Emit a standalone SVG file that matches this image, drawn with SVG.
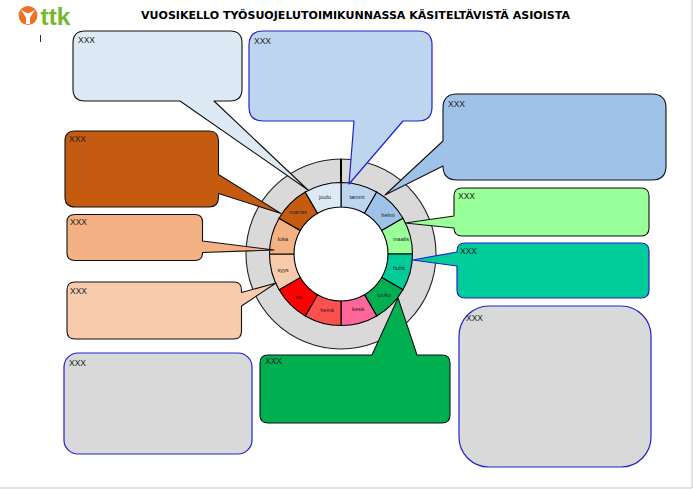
<svg xmlns="http://www.w3.org/2000/svg" width="693" height="489" viewBox="0 0 693 489">
<style>
.s{stroke:#000;stroke-width:1.1}
.c{stroke:#111;stroke-width:1.1;stroke-linejoin:round}
.b{stroke:#2222cc;stroke-width:1.2;stroke-linejoin:round}
.x{font:8.5px "Liberation Sans",Arial,sans-serif;fill:#222}
.m{font:5.6px "Liberation Sans",Arial,sans-serif;fill:#222;text-anchor:middle}
</style>
<rect width="693" height="489" fill="#fff"/>
<path d="M0 488H692V0" fill="none" stroke="#c4c4c4" stroke-width="1"/>
<g id="logo">
<circle cx="28" cy="15.500" r="9.500" fill="#ee7126"/>
<path d="M21 10L28 13.500L35 10L30 17.500V24H26V17.500Z" fill="#fff"/>
<text x="40.500" y="25" font-family="'Liberation Sans',Arial,sans-serif" font-size="24.500" font-weight="700" fill="#76b82a">ttk</text>
</g>
<path id="tick" d="M40.500 35V42" stroke="#333" stroke-width="1"/>
<text id="title" x="355.500" y="19" text-anchor="middle" font-family="'DejaVu Sans','Liberation Sans',sans-serif" font-size="10.800" font-weight="700" fill="#000" textLength="429" lengthAdjust="spacingAndGlyphs">VUOSIKELLO TYÖSUOJELUTOIMIKUNNASSA KÄSITELTÄVISTÄ ASIOISTA</text>
<g id="wheel">
<circle cx="341" cy="254" r="95" fill="#d9d9d9" stroke="#222" stroke-width="1.100"/>
<circle cx="341" cy="254" r="47" fill="#fff"/>
<g class="s">
<path id="tammi" fill="#bdd5ee" d="M341 182.500A71.500 71.500 0 0 1 376.750 192.080L364.500 213.300A47 47 0 0 0 341 207Z"/>
<path id="helmi" fill="#9fc3e8" d="M376.750 192.080A71.500 71.500 0 0 1 402.920 218.250L381.700 230.500A47 47 0 0 0 364.500 213.300Z"/>
<path id="maalis" fill="#99ff99" d="M402.920 218.250A71.500 71.500 0 0 1 412.500 254L388 254A47 47 0 0 0 381.700 230.500Z"/>
<path id="huhti" fill="#00cc99" d="M412.500 254A71.500 71.500 0 0 1 402.920 289.750L381.700 277.500A47 47 0 0 0 388 254Z"/>
<path id="touko" fill="#00b050" d="M402.920 289.750A71.500 71.500 0 0 1 376.750 315.920L364.500 294.700A47 47 0 0 0 381.700 277.500Z"/>
<path id="kesa" fill="#ff6699" d="M376.750 315.920A71.500 71.500 0 0 1 341 325.500L341 301A47 47 0 0 0 364.500 294.700Z"/>
<path id="heina" fill="#ff5050" d="M341 325.500A71.500 71.500 0 0 1 305.250 315.920L317.500 294.700A47 47 0 0 0 341 301Z"/>
<path id="elo" fill="#ff0000" d="M305.250 315.920A71.500 71.500 0 0 1 279.080 289.750L300.300 277.500A47 47 0 0 0 317.500 294.700Z"/>
<path id="syys" fill="#f8cbad" d="M279.080 289.750A71.500 71.500 0 0 1 269.500 254L294 254A47 47 0 0 0 300.300 277.500Z"/>
<path id="loka" fill="#f4b183" d="M269.500 254A71.500 71.500 0 0 1 279.080 218.250L300.300 230.500A47 47 0 0 0 294 254Z"/>
<path id="marras" fill="#c55a11" d="M279.080 218.250A71.500 71.500 0 0 1 305.250 192.080L317.500 213.300A47 47 0 0 0 300.300 230.500Z"/>
<path id="joulu" fill="#dee9f6" d="M305.250 192.080A71.500 71.500 0 0 1 341 182.500L341 207A47 47 0 0 0 317.500 213.300Z"/>
</g>
<path d="M341 159V183" stroke="#000" stroke-width="2"/>
<text class="m" x="357" y="199">tammi</text>
<text class="m" x="388" y="217">helmi</text>
<text class="m" x="401" y="241">maalis</text>
<text class="m" x="399" y="270">huhti</text>
<text class="m" x="384" y="297">touko</text>
<text class="m" x="358" y="311">kesä</text>
<text class="m" x="327" y="312">heinä</text>
<text class="m" x="299" y="299">elo</text>
<text class="m" x="283" y="272">syys</text>
<text class="m" x="283" y="241">loka</text>
<text class="m" x="298" y="214">marras</text>
<text class="m" x="325" y="199">joulu</text>
</g>
<g id="connectors">
<path id="callout-joulu" class="c" fill="#dee9f6" d="M85 31H230Q242 31 242 43V89Q242 101 230 101H214L308 190L180 101H85Q73 101 73 89V43Q73 31 85 31Z"/>
<path id="callout-tammi" class="b" fill="#bdd5ee" d="M263 31H418Q432 31 432 45V107Q432 121 418 121H403L349 184L354 121H263Q249 121 249 107V45Q249 31 263 31Z"/>
<path id="callout-helmi" class="c" fill="#9fc3e8" d="M457 94H652Q666 94 666 108V166Q666 180 652 180H457Q443 180 443 166L385 195L443 141V108Q443 94 457 94Z"/>
<path id="callout-maalis" class="c" fill="#99ff99" d="M462 188H641Q649 188 649 196V228Q649 236 641 236H462Q454 236 454 228L405 223L454 216V196Q454 188 462 188Z"/>
<path id="callout-huhti" class="b" fill="#00cc99" d="M465 243H641Q649 243 649 251V290Q649 298 641 298H465Q457 298 457 290V266L412.500 260L457 252V251Q457 243 465 243Z"/>
<path id="callout-touko" class="c" fill="#00b050" d="M268 355H372L398 298L417 355H442Q450 355 450 363V415Q450 423 442 423H268Q260 423 260 415V363Q260 355 268 355Z"/>
<path id="callout-marras" class="c" fill="#c55a11" d="M75 131H209Q218.500 131 218.500 141V174.500L281 213.500L218.500 193.500V197Q218.500 207 209 207H75Q65 207 65 197V141Q65 131 75 131Z"/>
<path id="callout-loka" class="c" fill="#f4b183" d="M75 214.500H195Q202.500 214.500 202.500 222V241L274 250L202.500 252.500V253Q202.500 260.500 195 260.500H75Q67 260.500 67 253V222Q67 214.500 75 214.500Z"/>
<path id="callout-syys" class="c" fill="#f8cbad" d="M75 282H234Q241.500 282 241.500 290V292.500L276 283L241.500 306V331Q241.500 339 234 339H75Q67 339 67 331V290Q67 282 75 282Z"/>
</g>
<g id="callout-harmaa-1"><rect x="64" y="353" width="188" height="101" rx="14" fill="#d9d9d9" class="b"/></g>
<g id="callout-harmaa-2"><rect x="459" y="306" width="192" height="161" rx="30" fill="#d9d9d9" class="b"/></g>
<text class="x" x="78" y="43">XXX</text>
<text class="x" x="254" y="44">XXX</text>
<text class="x" x="448" y="107">XXX</text>
<text class="x" x="458" y="199">XXX</text>
<text class="x" x="460" y="254">XXX</text>
<text class="x" x="265" y="364">XXX</text>
<text class="x" x="69" y="142">XXX</text>
<text class="x" x="70" y="225">XXX</text>
<text class="x" x="70" y="294">XXX</text>
<text class="x" x="69" y="366">XXX</text>
<text class="x" x="466" y="321">XXX</text>
</svg>
